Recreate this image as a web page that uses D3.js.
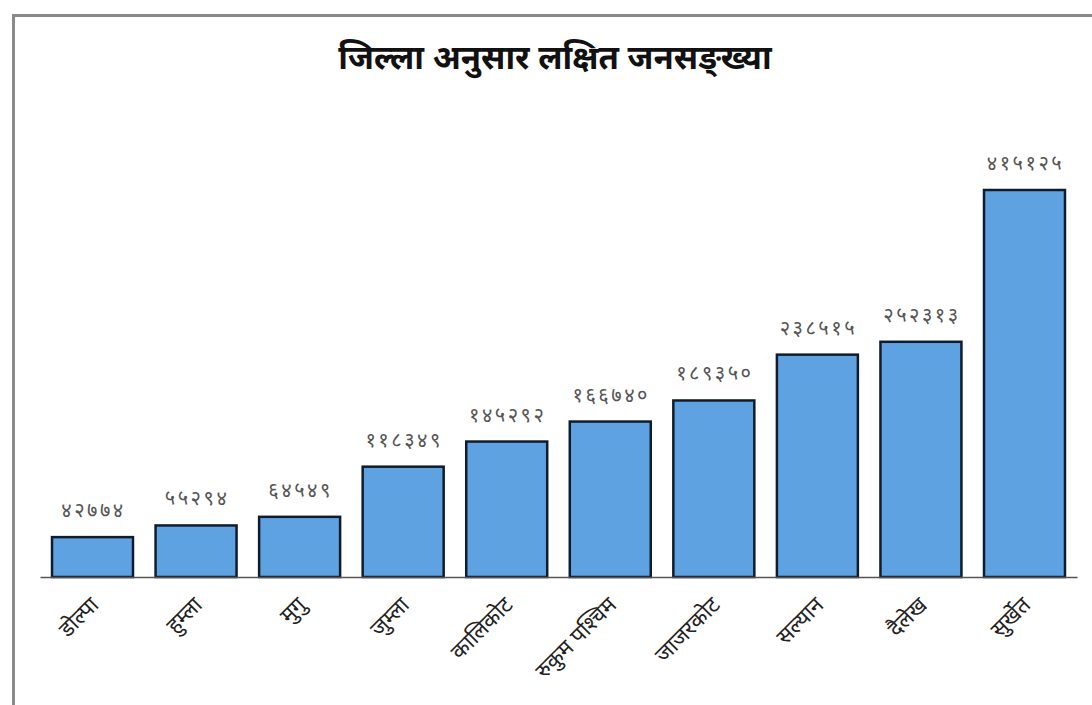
<!DOCTYPE html>
<html>
<head>
<meta charset="utf-8">
<script src="https://cdn.jsdelivr.net/npm/d3@7"></script>
<style>
  body { margin: 0; background: #fff; }
  svg text { font-family: "Noto Sans", "DejaVu Sans", sans-serif; }
</style>
</head>
<body>
<div id="content"></div>
<script>
var districts = ["डोल्पा", "हुम्ला", "मुगु", "जुम्ला", "कालिकोट", "रुकुम पश्चिम", "जाजरकोट", "सल्यान", "दैलेख", "सुर्खेत"];
var population = [42774, 55294, 64549, 118349, 145292, 166740, 189350, 238515, 252313, 415125];
var chartTitle = "जिल्ला अनुसार लक्षित जनसङ्ख्या";

var w = 1092, h = 705;
var margin = {left: 40, right: 15};

var svg = d3.select("#content").append("svg")
            .attr("width", w)
            .attr("height", h);

// outer frame (only top and left show in the picture)
svg.append("path")
   .attr("d", "M13.5," + h + "V15.5H" + (w + 5))
   .attr("fill", "none")
   .attr("stroke", "#8a8a8a")
   .attr("stroke-width", 3);

svg.append("text")
   .attr("x", 555)
   .attr("y", 69)
   .attr("text-anchor", "middle")
   .attr("font-size", "33px")
   .attr("font-weight", "bold")
   .attr("fill", "#111")
   .text(chartTitle);

var x = d3.scaleBand()
          .domain(districts)
          .range([margin.left, w - margin.right])
          .paddingInner(0.218)
          .paddingOuter(0.116);

var baseY = 577;
var y = d3.scaleLinear()
          .domain([0, 415125])
          .range([baseY, 190]);

var toDeva = function(n) {
    var digits = "०१२३४५६७८९";
    return String(n).replace(/[0-9]/g, function(c) { return digits[+c]; });
};

var data = districts.map(function(d, i) { return {name: d, value: population[i]}; });

svg.append("g")
   .selectAll("rect")
   .data(data)
   .enter()
   .append("rect")
   .attr("x", function(d) { return x(d.name); })
   .attr("y", function(d) { return y(d.value); })
   .attr("width", x.bandwidth())
   .attr("height", function(d) { return baseY - y(d.value); })
   .attr("fill", "#5ea2e2")
   .attr("stroke", "#101c2b")
   .attr("stroke-width", 2.5);

// baseline axis
var axis = svg.append("g")
   .attr("transform", "translate(0," + baseY + ")")
   .call(d3.axisBottom(x).tickSize(0).tickFormat(""));
axis.select(".domain").attr("stroke", "#555").attr("stroke-width", 1.5);

svg.append("g")
   .selectAll("text")
   .data(data)
   .enter()
   .append("text")
   .attr("x", function(d) { return x(d.name) + x.bandwidth() / 2 + 1; })
   .attr("y", function(d) { return y(d.value) - 20; })
   .attr("text-anchor", "middle")
   .attr("font-size", "20px")
   .attr("letter-spacing", "2.5px")
   .attr("fill", "#555")
   .text(function(d) { return toDeva(d.value); });

svg.append("g")
   .selectAll("text")
   .data(data)
   .enter()
   .append("text")
   .attr("text-anchor", "end")
   .attr("font-size", "22px")
   .attr("fill", "#222")
   .attr("transform", function(d) {
       var cx = x(d.name) + x.bandwidth() / 2 + 2;
       return "translate(" + cx + "," + (baseY + 24) + ") rotate(-45)";
   })
   .attr("dy", "0.35em")
   .text(function(d) { return d.name; });
</script>
</body>
</html>
